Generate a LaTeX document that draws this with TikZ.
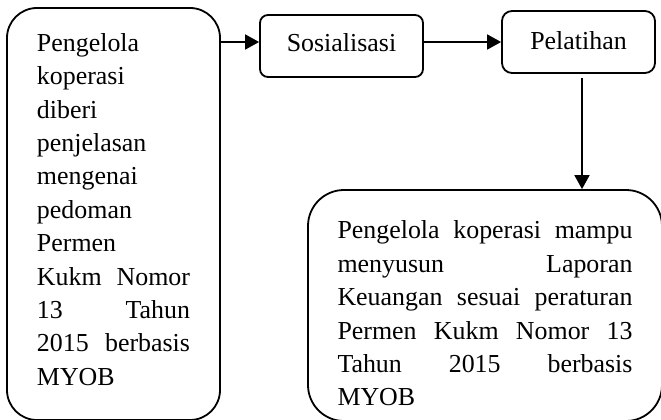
\documentclass[tikz,border=0pt]{standalone}
\usepackage{fontspec}
\setmainfont{Liberation Serif}
\usetikzlibrary{positioning,arrows.meta}

\newcommand{\boxfont}{\fontsize{26}{33.5}\selectfont\tolerance=10000\relax}

\begin{document}
\begin{tikzpicture}[
    x=1bp, y=1bp,
    box/.style={draw, line width=1.8bp, align=center, font=\boxfont},
    para/.style={box, align=justify},
    arr/.style={-{Triangle[length=14bp,width=15bp]}, line width=1.8bp}
]
\useasboundingbox (0,0) rectangle (661,419);
\node[para, rounded corners=30bp, text width=153bp, text depth=343bp, minimum width=213bp, minimum height=412bp] (penjelasan) at (113.5,205)
    {Pengelola\linebreak koperasi\linebreak diberi\linebreak penjelasan\linebreak mengenai\linebreak pedoman\linebreak Permen\linebreak Kukm Nomor\linebreak 13 Tahun\linebreak 2015 berbasis\linebreak MYOB};
\node[box, rounded corners=8bp, text depth=6bp, minimum width=163bp, minimum height=62bp] (sosialisasi) at (341.5,373) {Sosialisasi};
\node[box, rounded corners=10bp, text depth=2bp, minimum width=153bp, minimum height=62bp] (pelatihan) at (578.5,377) {Pelatihan};
\node[para, rounded corners=36bp, text width=295bp, text height=34bp, minimum width=354bp, minimum height=231bp] (hasil) at (485,113.5)
    {Pengelola koperasi mampu\linebreak menyusun Laporan\linebreak Keuangan sesuai peraturan\linebreak Permen Kukm Nomor 13\linebreak Tahun 2015 berbasis\linebreak MYOB};
\draw[arr] (penjelasan.east |- pelatihan) -- (sosialisasi.west |- pelatihan);
\draw[arr] (sosialisasi.east |- pelatihan) -- (pelatihan.west);
\draw[arr, shorten <=4bp] ([xshift=3.5bp]pelatihan.south) -- ([xshift=3.5bp]pelatihan.south |- hasil.north);
\end{tikzpicture}
\end{document}
